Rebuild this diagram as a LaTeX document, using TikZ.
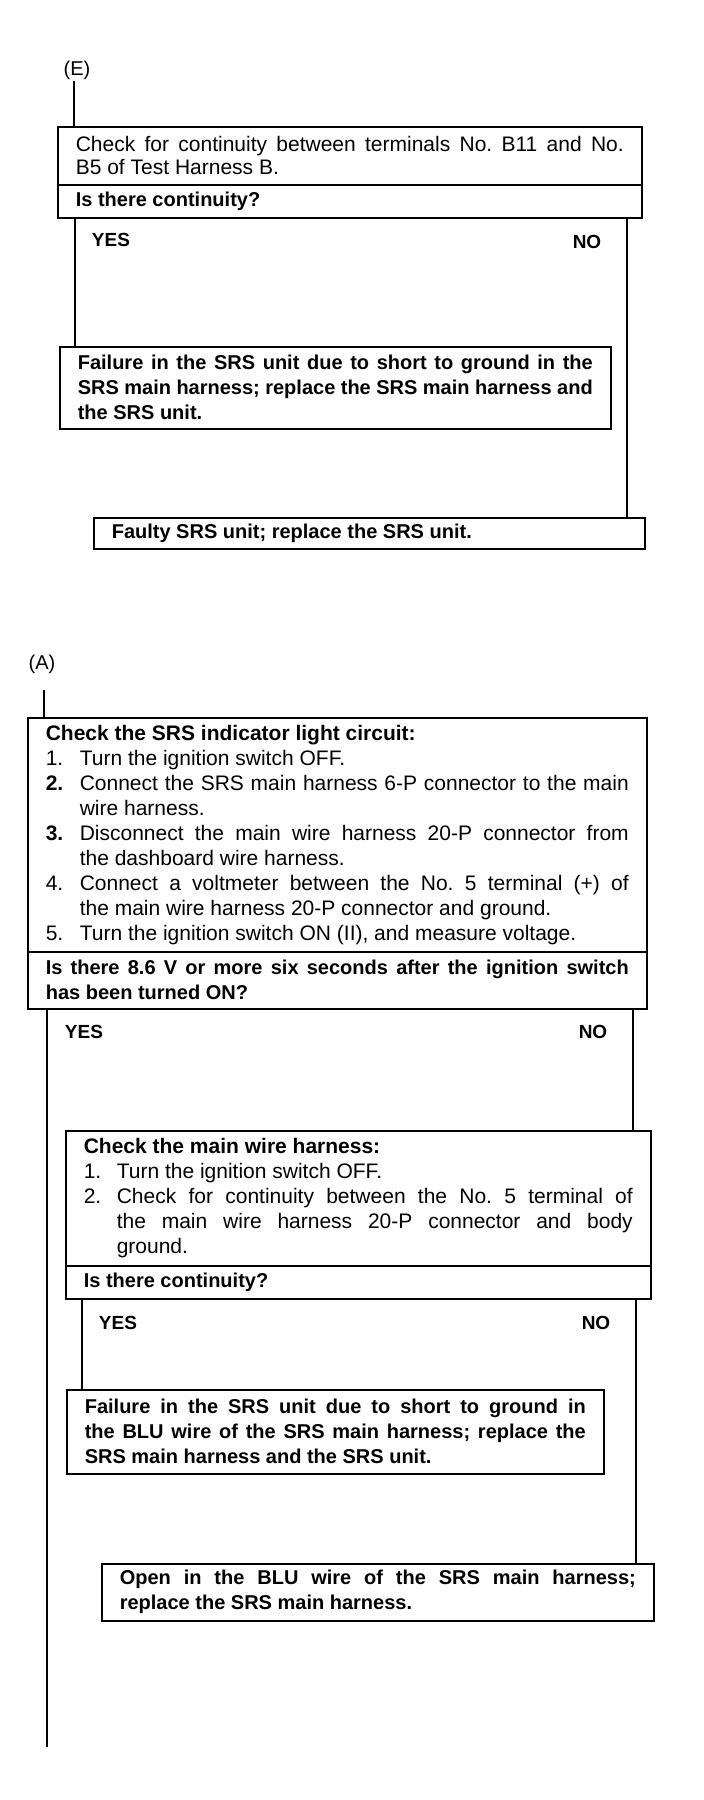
\documentclass[tikz,border=0pt]{standalone}
\usepackage{fontspec}
\setmainfont{Liberation Sans}
\setlength\parindent{0pt}
\newcommand\litem[2][34pt]{\par\noindent\hangindent=#1\hangafter=1\makebox[#1][l]{#2}\ignorespaces}
\newcommand\regfont{\fontsize{21}{25}\selectfont\frenchspacing\hyphenpenalty=10000\exhyphenpenalty=10000}
\newcommand\regfontE{\fontsize{21}{23}\selectfont\frenchspacing\hyphenpenalty=10000\exhyphenpenalty=10000}
\newcommand\boldfont{\fontsize{20}{25}\selectfont\bfseries\frenchspacing\hyphenpenalty=10000\exhyphenpenalty=10000}
\begin{document}
\begin{tikzpicture}[x=1pt,y=-1pt,
  box/.style={draw, line width=1.6pt, anchor=north west, inner xsep=18pt, inner ysep=0pt, align=justify},
  reg/.style={font=\regfont},
  regE/.style={font=\regfontE},
  bld/.style={font=\boldfont},
  lbl/.style={font=\fontsize{20}{24}\selectfont, inner sep=0pt},
  yn/.style={font=\fontsize{19}{22}\selectfont\bfseries, inner sep=0pt},
  conn/.style={line width=1.6pt}]
\useasboundingbox (0,0) rectangle (704,1800);

% ---------- section E ----------
\node[lbl] (lblE) at (77,70) {(E)};
\node[box,regE,text width=548pt,minimum height=58pt] (e1) at (57,126)
  {Check for continuity between terminals No. B11 and No.\linebreak B5 of Test Harness B.};
\node[box,bld,text width=548pt,minimum height=33pt] (eq) at (57,184)
  {Is there continuity?};
\node[yn] (eyes) at (111,240) {YES};
\node[yn] (eno) at (587,242) {NO};
\node[box,bld,text width=515pt,minimum height=82pt] (f1) at (59,346)
  {Failure in the SRS unit due to short to ground in the\linebreak SRS main harness; replace the SRS main harness and\linebreak the SRS unit.};
\node[box,bld,text width=515pt,minimum height=31pt] (b3) at (93,517)
  {Faulty SRS unit; replace the SRS unit.};

\coordinate (eTop) at (74,81);
\coordinate (eYes) at (75,0);
\coordinate (eNo) at (627,0);
\draw[conn] (eTop) -- (eTop |- e1.north);
\draw[conn] (eq.south -| eYes) -- (f1.north -| eYes);
\draw[conn] (eq.south -| eNo) -- (b3.north -| eNo);

% ---------- section A ----------
\node[lbl] (lblA) at (42,664) {(A)};
\node[box,reg,text width=583pt,minimum height=234pt] (a1) at (27,717)
  {{\bfseries Check the SRS indicator light circuit:}
   \litem{1.}Turn the ignition switch OFF.
   \litem{\textbf{2.}}Connect the SRS main harness 6-P connector to the main\linebreak wire harness.
   \litem{\textbf{3.}}Disconnect the main wire harness 20-P connector from\linebreak the dashboard wire harness.
   \litem{4.}Connect a voltmeter between the No. 5 terminal (+) of\linebreak the main wire harness 20-P connector and ground.
   \litem{5.}Turn the ignition switch ON (II), and measure voltage.\par};
\node[box,bld,text width=583pt,minimum height=57pt] (aq) at (27,951)
  {Is there 8.6 V or more six seconds after the ignition switch\linebreak has been turned ON?};
\node[yn] (ayes) at (84,1032) {YES};
\node[yn] (ano) at (593,1032) {NO};

\node[box,reg,text width=549pt,minimum height=135pt] (b1) at (65,1130)
  {{\bfseries Check the main wire harness:}
   \litem[33pt]{1.}Turn the ignition switch OFF.
   \litem[33pt]{2.}Check for continuity between the No. 5 terminal of\linebreak the main wire harness 20-P connector and body\linebreak ground.\par};
\node[box,bld,text width=549pt,minimum height=33pt] (bq) at (65,1265)
  {Is there continuity?};
\node[yn] (byes) at (118,1323) {YES};
\node[yn] (bno) at (596,1323) {NO};

\node[box,bld,text width=501pt,minimum height=84pt] (f2) at (66,1389)
  {Failure in the SRS unit due to short to ground in\linebreak the BLU wire of the SRS main harness; replace the\linebreak SRS main harness and the SRS unit.};
\node[box,bld,text width=516pt,minimum height=57pt] (op) at (101,1563)
  {Open in the BLU wire of the SRS main harness;\linebreak replace the SRS main harness.};

\coordinate (aTop) at (44,690);
\coordinate (aEnd) at (47,1747);
\coordinate (aNo) at (633,0);
\coordinate (bYes) at (82,0);
\coordinate (bNo) at (636,0);
\draw[conn] (aTop) -- (aTop |- a1.north);
\draw[conn] (aq.south -| aEnd) -- (aEnd);
\draw[conn] (aq.south -| aNo) -- (b1.north -| aNo);
\draw[conn] (bq.south -| bYes) -- (f2.north -| bYes);
\draw[conn] (bq.south -| bNo) -- (op.north -| bNo);
\end{tikzpicture}
\end{document}
